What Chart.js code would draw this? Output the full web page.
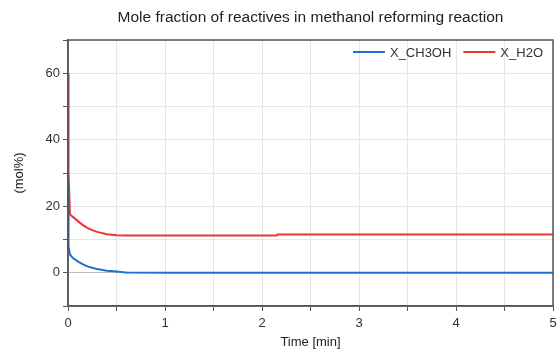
<!DOCTYPE html>
<html>
<head>
<meta charset="utf-8">
<script src="https://cdn.jsdelivr.net/npm/chart.js@4"></script>
<style>
    html, body { margin: 0; padding: 0; background: #fff; }
    #wrap { width: 558px; height: 356px; }
</style>
</head>
<body>
<div id="wrap"><canvas id="chart" width="558" height="356"></canvas></div>
<script>
// Simulation output (time in minutes, mole fraction in mol%)
const timeMin  = [0, 0.003, 0.008, 0.02, 0.05, 0.1, 0.15, 0.2, 0.25, 0.3, 0.4, 0.5, 0.6, 1.0, 1.5, 2.0, 2.15, 2.16, 3.0, 4.0, 5.0];
const xCH3OH   = [27, 13, 8, 5.5, 4.4, 3.4, 2.6, 1.9, 1.5, 1.1, 0.6, 0.4, 0.1, 0, 0, 0, 0, 0, 0, 0, 0];
const xH2O     = [60, 44.5, 30, 17.6, 16.8, 15.6, 14.4, 13.5, 12.8, 12.3, 11.6, 11.3, 11.2, 11.2, 11.2, 11.2, 11.2, 11.5, 11.5, 11.5, 11.5];
const seriesNames = ['X_CH3OH', 'X_H2O'];
const xTicks = [0, 0.5, 1, 1.5, 2, 2.5, 3, 3.5, 4, 4.5, 5];
const chartTitle = 'Mole fraction of reactives in methanol reforming reaction';

const FONT = "'Liberation Sans', Arial, sans-serif";

// frame round the plot, title centred on the plot, legend inside top right
const decorations = {
    id: 'decorations',
    afterDraw(chart) {
        const a = chart.chartArea;
        const ctx = chart.ctx;
        ctx.save();
        ctx.strokeStyle = '#555';
        ctx.lineWidth = 1.5;
        ctx.strokeRect(a.left, a.top, a.right - a.left, a.bottom - a.top);

        ctx.fillStyle = '#222';
        ctx.font = '15.5px ' + FONT;
        ctx.textAlign = 'center';
        ctx.textBaseline = 'middle';
        ctx.fillText(chartTitle, (a.left + a.right) / 2, 18);

        ctx.font = '13px ' + FONT;
        ctx.textAlign = 'left';
        const lineLen = 32, gap = 5, spacing = 12;
        const items = chart.data.datasets.map(ds => ({
            label: ds.label, color: ds.borderColor, w: ctx.measureText(ds.label).width
        }));
        let x = a.right - 10 - items.reduce((s, it) => s + lineLen + gap + it.w, 0) - spacing * (items.length - 1);
        const y = a.top + 12;
        items.forEach(it => {
            ctx.strokeStyle = it.color;
            ctx.lineWidth = 2;
            ctx.beginPath();
            ctx.moveTo(x, y);
            ctx.lineTo(x + lineLen, y);
            ctx.stroke();
            x += lineLen + gap;
            ctx.fillStyle = '#333';
            ctx.fillText(it.label, x, y + 1);
            x += it.w + spacing;
        });
        ctx.restore();
    }
};

const toPoints = (ys) => timeMin.map((t, i) => ({ x: t, y: ys[i] }));

new Chart(document.getElementById('chart'), {
    type: 'scatter',
    data: {
        datasets: [
            {
                label: seriesNames[0],
                data: toPoints(xCH3OH),
                showLine: true,
                borderColor: '#1f6fd1',
                backgroundColor: '#1f6fd1',
                borderWidth: 2,
                pointRadius: 0
            },
            {
                label: seriesNames[1],
                data: toPoints(xH2O),
                showLine: true,
                borderColor: '#ee3333',
                backgroundColor: '#ee3333',
                borderWidth: 2,
                pointRadius: 0
            }
        ]
    },
    options: {
        responsive: false,
        animation: false,
        layout: { padding: { left: 8, right: 5, top: 40, bottom: 2 } },
        plugins: {
            title: { display: false },
            legend: { display: false },
            tooltip: { enabled: false }
        },
        scales: {
            x: {
                type: 'linear',
                min: 0,
                max: 5,
                afterBuildTicks: (axis) => { axis.ticks = xTicks.map(v => ({ value: v })); },
                ticks: {
                    color: '#333',
                    font: { family: FONT, size: 13 },
                    maxRotation: 0,
                    padding: 5,
                    callback: (v) => Number.isInteger(v) ? v : ''
                },
                grid: { color: '#e6e6e6', tickLength: 5, tickColor: '#555' },
                border: { color: '#555', width: 1.5 },
                title: {
                    display: true,
                    text: 'Time [min]',
                    color: '#222',
                    font: { family: FONT, size: 13 },
                    padding: { top: 4 }
                },
                afterFit: (axis) => { axis.height = 48; axis.paddingRight = 0; axis.paddingLeft = 0; }
            },
            y: {
                min: -10,
                max: 70,
                ticks: {
                    stepSize: 10,
                    color: '#333',
                    font: { family: FONT, size: 13 },
                    callback: (v) => (v % 20 === 0 && v < 70) ? v : ''
                },
                grid: {
                    color: (c) => c.tick && c.tick.value === 0 ? '#bdbdbd' : '#e6e6e6',
                    tickLength: 5,
                    tickColor: '#555'
                },
                border: { color: '#555', width: 1.5 },
                title: {
                    display: true,
                    text: '(mol%)',
                    color: '#222',
                    font: { family: FONT, size: 13 },
                    padding: { bottom: 10 }
                },
                afterFit: (axis) => { axis.width = 60; axis.paddingTop = 0; axis.paddingBottom = 0; }
            }
        }
    },
    plugins: [decorations]
});
</script>
</body>
</html>
